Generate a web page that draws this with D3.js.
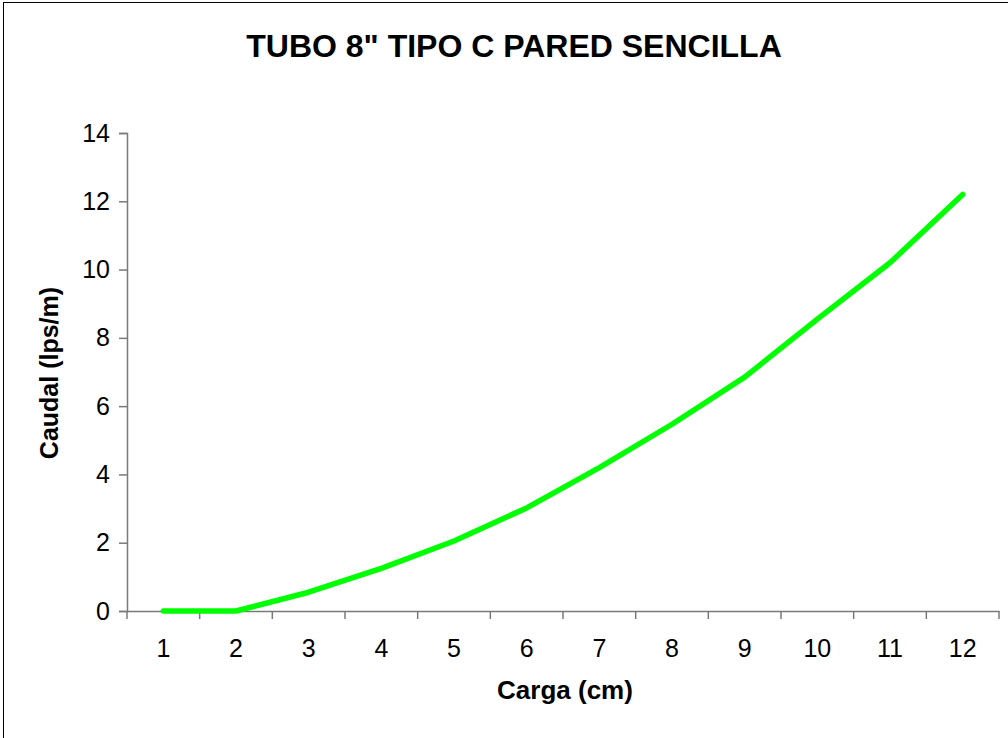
<!DOCTYPE html>
<html>
<head>
<meta charset="utf-8">
<script src="https://cdn.jsdelivr.net/npm/d3@7"></script>
<style>
  html, body { margin: 0; padding: 0; background: #fff; }
  svg { display: block; }
</style>
</head>
<body>
<svg id="chart" width="1008" height="738"></svg>
<script>
// Carga (cm) categories and caudal (lps/m) readings
const cargas = ["1", "2", "3", "4", "5", "6", "7", "8", "9", "10", "11", "12"];
const caudal = [0, 0, 0.55, 1.25, 2.05, 3.02, 4.2, 5.47, 6.85, 8.55, 10.2, 12.2];
const yTicks = [0, 2, 4, 6, 8, 10, 12, 14];

const titleText = "TUBO 8\" TIPO C PARED SENCILLA";
const xTitle = "Carga (cm)";
const yTitle = "Caudal (lps/m)";

const svg = d3.select("#chart");
const font = "'Liberation Sans', Arial, sans-serif";

const plot = { left: 127, right: 999, top: 133, bottom: 611 };

// outer frame
svg.append("rect")
  .attr("x", 3.5).attr("y", 2.5)
  .attr("width", 1010).attr("height", 740)
  .attr("fill", "#fff").attr("stroke", "#000").attr("stroke-width", 1);

const x = d3.scaleBand().domain(cargas).range([plot.left, plot.right]).paddingInner(0).paddingOuter(0);
const y = d3.scaleLinear().domain([0, 14]).range([plot.bottom, plot.top]);

// y axis
const yAxis = svg.append("g")
  .attr("transform", `translate(${plot.left},0)`)
  .call(d3.axisLeft(y).tickValues(yTicks).tickSize(8).tickPadding(9).tickFormat(d3.format("d")));
yAxis.select(".domain").attr("stroke", "#7a7a7a").attr("stroke-width", 1.5);
yAxis.selectAll(".tick line").attr("stroke", "#7a7a7a").attr("stroke-width", 1.5);
yAxis.selectAll(".tick text")
  .attr("font-family", font).attr("font-size", 25).attr("fill", "#000");

// x axis: ticks fall on category boundaries
const xAxis = svg.append("g")
  .attr("transform", `translate(0,${plot.bottom})`)
  .call(d3.axisBottom(x).tickSize(0).tickPadding(28));
xAxis.select(".domain").attr("stroke", "#7a7a7a").attr("stroke-width", 1.5);
xAxis.selectAll(".tick text")
  .attr("font-family", font).attr("font-size", 25).attr("fill", "#000");

const boundaries = cargas.map(c => x(c)).concat([x(cargas[cargas.length - 1]) + x.bandwidth()]);
svg.append("g").selectAll("line")
  .data(boundaries)
  .join("line")
  .attr("x1", d => d).attr("x2", d => d)
  .attr("y1", plot.bottom).attr("y2", plot.bottom + 8)
  .attr("stroke", "#7a7a7a").attr("stroke-width", 1.5);

// data line
const line = d3.line()
  .x((d, i) => x(cargas[i]) + x.bandwidth() / 2)
  .y(d => y(d));

svg.append("path")
  .datum(caudal)
  .attr("d", line)
  .attr("fill", "none")
  .attr("stroke", "#00ff00")
  .attr("stroke-width", 5.5)
  .attr("stroke-linejoin", "round")
  .attr("stroke-linecap", "round");

// titles
svg.append("text")
  .attr("x", 514).attr("y", 57)
  .attr("text-anchor", "middle")
  .attr("font-family", font).attr("font-weight", "bold").attr("font-size", 32)
  .text(titleText);

svg.append("text")
  .attr("x", 565).attr("y", 699)
  .attr("text-anchor", "middle")
  .attr("font-family", font).attr("font-weight", "bold").attr("font-size", 26)
  .text(xTitle);

svg.append("text")
  .attr("transform", "translate(58,373) rotate(-90)")
  .attr("text-anchor", "middle")
  .attr("font-family", font).attr("font-weight", "bold").attr("font-size", 25)
  .text(yTitle);
</script>
</body>
</html>
